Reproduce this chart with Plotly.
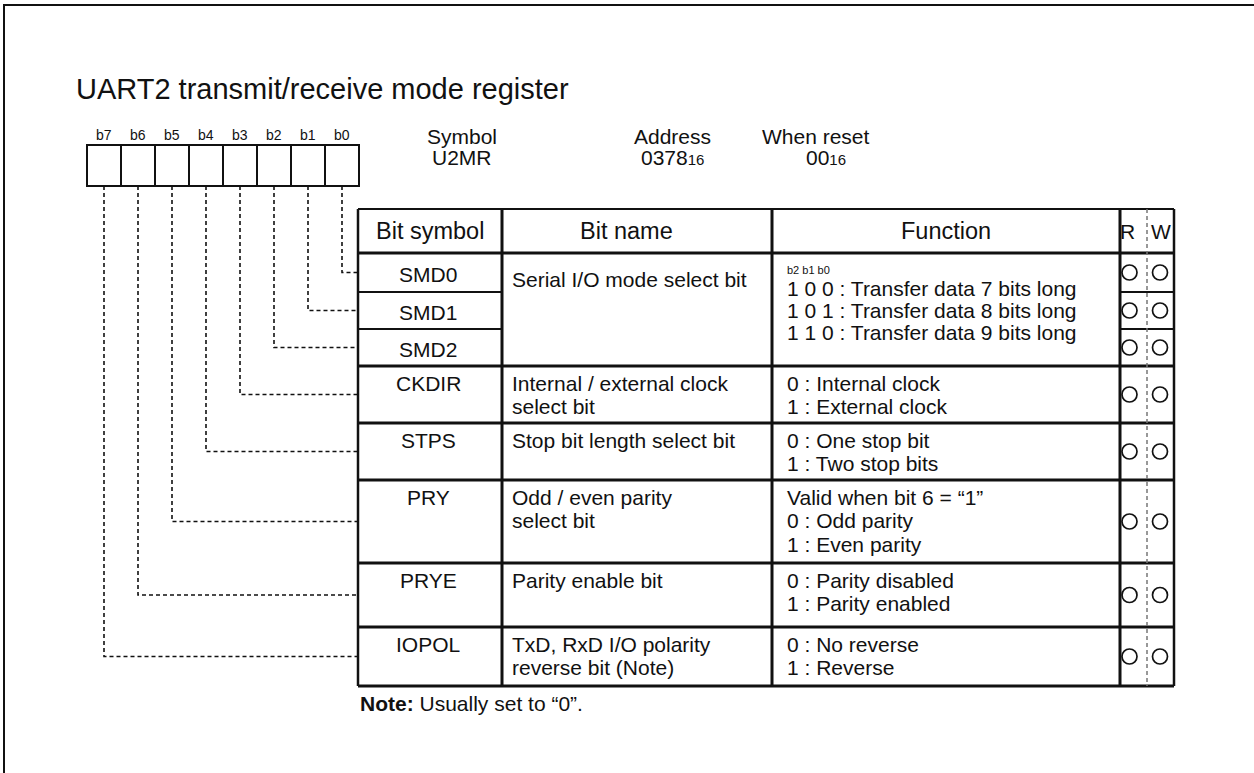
import plotly.graph_objects as go

# ---------------- data ----------------
title_text = "UART2 transmit/receive mode register"
bit_labels = ["b7", "b6", "b5", "b4", "b3", "b2", "b1", "b0"]
symbol_caption = "Symbol"
symbol_value = "U2MR"
address_caption = "Address"
address_value = "0378"
reset_caption = "When reset"
reset_value = "00"
radix = "16"
header_labels = ["Bit symbol", "Bit name", "Function"]
rw_labels = ["R", "W"]

bit_symbols = ["SMD0", "SMD1", "SMD2", "CKDIR", "STPS", "PRY", "PRYE", "IOPOL"]
bit_numbers = [0, 1, 2, 3, 4, 5, 6, 7]
readable = [True, True, True, True, True, True, True, True]
writable = [True, True, True, True, True, True, True, True]

# groups of bits sharing a bit name / function cell
group_bits = [[0, 1, 2], [3], [4], [5], [6], [7]]
group_names = [
    ["Serial I/O mode select bit"],
    ["Internal / external clock", "select bit"],
    ["Stop bit length select bit"],
    ["Odd / even parity", "select bit"],
    ["Parity enable bit"],
    ["TxD, RxD I/O polarity", "reverse bit (Note)"],
]
smd_caption = "b2 b1 b0"
group_functions = [
    ["1 0 0 : Transfer data 7 bits long",
     "1 0 1 : Transfer data 8 bits long",
     "1 1 0 : Transfer data 9 bits long"],
    ["0 : Internal clock", "1 : External clock"],
    ["0 : One stop bit", "1 : Two stop bits"],
    ["Valid when bit 6 = \u201c1\u201d", "0 : Odd parity", "1 : Even parity"],
    ["0 : Parity disabled", "1 : Parity enabled"],
    ["0 : No reverse", "1 : Reverse"],
]
note_bold = "Note:"
note_text = "Usually set to \u201c0\u201d."

# ---------------- layout constants ----------------
W, H = 1254, 773
FONT = "Liberation Sans, Arial, sans-serif"
BODY = 21
box_left, box_w, box_top, box_bot = 87, 34, 145, 186
col_x = [358, 502, 772, 1120, 1174]
rw_mid = 1147
tbl_top, head_bot = 209, 253
row_edges = [253, 292, 329, 366, 423, 480, 563, 627, 686]
line_gap = 23.5
dash = "4px,3px"

fig = go.Figure()
shapes = []
ann = []


def text(x, y, s, size=BODY, anchor="left", bold=False):
    if bold:
        s = "<b>" + s + "</b>"
    ann.append(dict(x=x, y=y, text=s, showarrow=False, xanchor=anchor,
                    yanchor="middle", font=dict(family=FONT, size=size, color="#111")))


def line(x0, y0, x1, y1, w=2.5, color="#111", d=None):
    l = dict(color=color, width=w)
    if d:
        l["dash"] = d
    shapes.append(dict(type="line", x0=x0, y0=y0, x1=x1, y1=y1, line=l, layer="above"))


# outer frame (cropped)
line(4, 5, 4, H + 10, w=2)
line(3, 5, W + 10, 5, w=2)

# title
text(74, 89, title_text, size=29)

# register boxes and bit labels
for i, lab in enumerate(bit_labels):
    x0 = box_left + i * box_w
    shapes.append(dict(type="rect", x0=x0, x1=x0 + box_w, y0=box_top, y1=box_bot,
                       line=dict(color="#111", width=2)))
    text(x0 + box_w / 2, 135, lab, size=14, anchor="center")

# symbol / address / reset
sub = "<span style='font-size:15px'>" + radix + "</span>"
text(462, 136, symbol_caption, anchor="center")
text(462, 157, symbol_value, anchor="center")
text(672, 136, address_caption, anchor="center")
text(672, 157, address_value + sub, anchor="center")
text(816, 136, reset_caption, anchor="center")
text(826, 157, reset_value + sub, anchor="center")

# table header
hy = (tbl_top + head_bot) / 2
text((col_x[0] + col_x[1]) / 2, hy, header_labels[0], size=23.5, anchor="center")
text(626, hy, header_labels[1], size=23.5, anchor="center")
text((col_x[2] + col_x[3]) / 2, hy, header_labels[2], size=23.5, anchor="center")
text(1127, hy, rw_labels[0], size=21, anchor="center")
text(1161, hy, rw_labels[1], size=21, anchor="center")

# table grid
line(col_x[0], tbl_top, col_x[-1], tbl_top, w=2)
line(col_x[0], head_bot, col_x[-1], head_bot, w=3)
for gi, bits in enumerate(group_bits):
    for k in bits[:-1]:
        yb = row_edges[k + 1]
        line(col_x[0], yb, col_x[1], yb, w=1.8)
        line(col_x[3], yb, col_x[4], yb, w=1.8)
    yb = row_edges[bits[-1] + 1]
    line(col_x[0], yb, col_x[-1], yb, w=3)
for j, xv in enumerate(col_x):
    line(xv, tbl_top, xv, row_edges[-1], w=(2.5 if j in (0, 4) else 3))
line(rw_mid, tbl_top, rw_mid, row_edges[-1], w=1.5, color="#777", d=dash)

# rows: symbols, connectors
cx, cy = [], []
for k, sym in enumerate(bit_symbols):
    top, bot = row_edges[k], row_edges[k + 1]
    mid = (top + bot) / 2
    n = bit_numbers[k]
    if k < 3:
        text(428, mid + 2, sym, anchor="center")
    else:
        text(428, top + 17, sym, anchor="center")
    bx = box_left + (7 - n) * box_w + box_w / 2
    shapes.append(dict(type="path", path=f"M {bx},{box_bot} V {mid} H {col_x[0]}",
                       line=dict(color="#111", width=1.6, dash=dash)))
    if readable[k]:
        cx.append(1129.5); cy.append(mid)
    if writable[k]:
        cx.append(1160); cy.append(mid)

# names / functions
for gi, bits in enumerate(group_bits):
    top = row_edges[bits[0]]
    if len(bits) > 1:
        text(510, top + 26, group_names[gi][0])
        text(785, top + 17, smd_caption, size=11)
        for li, s in enumerate(group_functions[gi]):
            text(785, top + 35 + li * 22, s)
    else:
        for li, s in enumerate(group_names[gi]):
            text(510, top + 17 + li * line_gap, s)
        for li, s in enumerate(group_functions[gi]):
            text(785, top + 17 + li * line_gap, s)

fig.add_trace(go.Scatter(x=cx, y=cy, mode="markers", hoverinfo="skip",
                         marker=dict(symbol="circle-open", size=15, color="#111",
                                     line=dict(width=1.7, color="#111"))))

# note
text(358, 703, "<b>" + note_bold + "</b> " + note_text)

fig.update_layout(
    width=W, height=H, margin=dict(l=0, r=0, t=0, b=0),
    paper_bgcolor="white", plot_bgcolor="white", showlegend=False,
    xaxis=dict(range=[0, W], visible=False, fixedrange=True),
    yaxis=dict(range=[H, 0], visible=False, fixedrange=True),
    shapes=shapes, annotations=ann,
)
fig.write_html("out.html", config={"displayModeBar": False},
               post_script="document.body.style.margin='0';document.body.style.overflow='hidden';")
